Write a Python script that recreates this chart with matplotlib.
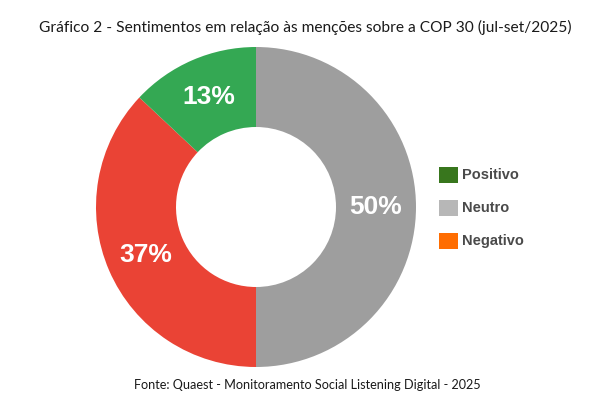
"""Donut chart: sentimentos em relação às menções sobre a COP 30."""

import matplotlib
import matplotlib.pyplot as plt
from matplotlib.patches import Rectangle

matplotlib.use("Agg")

# slices, drawn clockwise from the top
labels = ["Neutro", "Negativo", "Positivo"]
values = [50, 37, 13]
slice_colors = ["#9e9e9e", "#ea4335", "#34a853"]

# legend (order and colours as shown in the original)
legend_labels = ["Positivo", "Neutro", "Negativo"]
legend_colors = ["#38761d", "#b7b7b7", "#ff6d01"]

title = "Gráfico 2 - Sentimentos em relação às menções sobre a COP 30 (jul-set/2025)"
source = "Fonte: Quaest - Monitoramento Social Listening Digital - 2025"

W, H = 600, 399
fig = plt.figure(figsize=(W / 100, H / 100), dpi=100)
fig.patch.set_facecolor("white")

# pie axes: centre (256, 207) px, radius 160 px
cx, cy, r = 256, 207, 160
ax = fig.add_axes([(cx - r) / W, 1 - (cy + r) / H, 2 * r / W, 2 * r / H])
wedges, _, autotexts = ax.pie(
    values,
    colors=slice_colors,
    startangle=90,
    counterclock=False,
    radius=1.0,
    autopct="%d%%",
    pctdistance=0.75,
    wedgeprops=dict(width=0.5, edgecolor="none"),
    textprops=dict(color="white", fontsize=19, fontweight="bold", family="Liberation Sans"),
)
ax.set_xlim(-1, 1)
ax.set_ylim(-1, 1)
ax.set_aspect("equal")
ax.axis("off")

# legend drawn by hand
for i, (lab, col) in enumerate(zip(legend_labels, legend_colors)):
    y = 175 + i * 33
    fig.patches.append(Rectangle((439 / W, 1 - (y + 8) / H), 19 / W, 16 / H,
                                 transform=fig.transFigure, facecolor=col, edgecolor="none"))
    fig.text(462 / W, 1 - y / H, lab, ha="left", va="center", fontsize=10.5,
             fontweight="bold", color="#4a4a4a", family="Liberation Sans")

fig.text(305 / W, 1 - 27 / H, title, ha="center", va="center", fontsize=11.2,
         color="#1a1a1a", family="Lato")
fig.text(307 / W, 1 - 385 / H, source, ha="center", va="center", fontsize=9.1,
         color="#1a1a1a", family="Lato")

fig.savefig("out.png", dpi=100, facecolor="white")
